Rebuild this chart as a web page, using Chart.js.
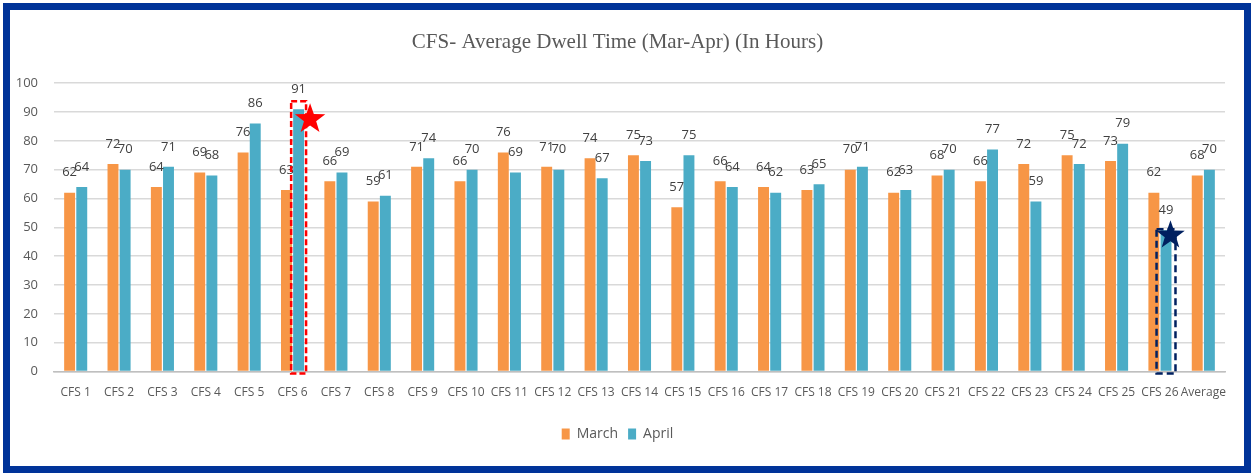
<!DOCTYPE html>
<html>
<head>
<meta charset="utf-8">
<script src="https://cdn.jsdelivr.net/npm/chart.js@4/dist/chart.umd.min.js"></script>
<style>
  body { margin: 0; background: #fff; }
  .frame {
    position: absolute; left: 3px; top: 3px;
    width: 1248px; height: 470px; box-sizing: border-box;
    border: 7px solid #003399; background: #fff;
  }
  canvas { display: block; }
</style>
</head>
<body>
<div class="frame">
  <canvas id="grafico" width="1234" height="456"></canvas>
</div>
<script>
const categorias = [
  'CFS 1', 'CFS 2', 'CFS 3', 'CFS 4', 'CFS 5', 'CFS 6', 'CFS 7', 'CFS 8', 'CFS 9',
  'CFS 10', 'CFS 11', 'CFS 12', 'CFS 13', 'CFS 14', 'CFS 15', 'CFS 16', 'CFS 17',
  'CFS 18', 'CFS 19', 'CFS 20', 'CFS 21', 'CFS 22', 'CFS 23', 'CFS 24', 'CFS 25',
  'CFS 26', 'Average'
];
const marco = [62, 72, 64, 69, 76, 63, 66, 59, 71, 66, 76, 71, 74, 75, 57, 66, 64, 63, 70, 62, 68, 66, 72, 75, 73, 62, 68];
const abril = [64, 70, 71, 68, 86, 91, 69, 61, 74, 70, 69, 70, 67, 73, 75, 64, 62, 65, 71, 63, 70, 77, 59, 72, 79, 49, 70];
const ticksY = [0, 10, 20, 30, 40, 50, 60, 70, 80, 90, 100];

// destaques: indice da categoria na serie April
const destaques = [
  { indice: 5, cor: '#FF0000', padX: 2, padTopo: 8, estrelaDx: 8, estrelaDy: 10, raio: 16, traco: [6, 3] },
  { indice: 25, cor: '#002060', padX: 4, padTopo: 1, estrelaDx: 1, estrelaDy: 5, raio: 15, traco: [7, 4] }
];

const fonte = "'Open Sans', sans-serif";

const rotulos = {
  id: 'rotulos',
  afterDatasetsDraw(chart) {
    const ctx = chart.ctx;
    ctx.save();
    ctx.font = '13px ' + fonte;
    ctx.fillStyle = '#404040';
    ctx.textAlign = 'center';
    ctx.textBaseline = 'middle';
    chart.data.datasets.forEach((ds, d) => {
      chart.getDatasetMeta(d).data.forEach((barra, i) => {
        ctx.fillText(ds.data[i], barra.x, barra.y - 20);
      });
    });
    ctx.restore();
  }
};

function estrela(ctx, cx, cy, r, cor) {
  ctx.beginPath();
  for (let k = 0; k < 10; k++) {
    const raio = k % 2 === 0 ? r : r * 0.4;
    const ang = -Math.PI / 2 + k * Math.PI / 5;
    const px = cx + raio * Math.cos(ang);
    const py = cy + raio * Math.sin(ang);
    if (k === 0) ctx.moveTo(px, py); else ctx.lineTo(px, py);
  }
  ctx.closePath();
  ctx.fillStyle = cor;
  ctx.fill();
}

const marcacoes = {
  id: 'marcacoes',
  afterDatasetsDraw(chart) {
    const ctx = chart.ctx;
    const meta = chart.getDatasetMeta(1);
    const base = chart.scales.y.getPixelForValue(0);
    ctx.save();
    destaques.forEach(h => {
      const barra = meta.data[h.indice];
      const esq = barra.x - barra.width / 2 - h.padX;
      const dir = barra.x + barra.width / 2 + h.padX;
      const topo = barra.y - h.padTopo;
      ctx.setLineDash(h.traco);
      ctx.lineWidth = 2.5;
      ctx.strokeStyle = h.cor;
      ctx.strokeRect(esq, topo, dir - esq, base + 2 - topo);
      ctx.setLineDash([]);
      estrela(ctx, barra.x + h.estrelaDx + barra.width / 2 - 2, barra.y + h.estrelaDy, h.raio, h.cor);
    });
    ctx.restore();
  }
};

new Chart(document.getElementById('grafico'), {
  type: 'bar',
  data: {
    labels: categorias,
    datasets: [
      { label: 'March', data: marco, backgroundColor: '#F79646', categoryPercentage: 0.56, barPercentage: 0.9 },
      { label: 'April', data: abril, backgroundColor: '#4BACC6', categoryPercentage: 0.56, barPercentage: 0.9 }
    ]
  },
  options: {
    responsive: false,
    animation: false,
    devicePixelRatio: 1,
    layout: { padding: { left: 0, right: 19, top: 0, bottom: 15 } },
    plugins: {
      title: {
        display: true,
        text: 'CFS- Average Dwell Time (Mar-Apr) (In Hours)',
        color: '#595959',
        font: { family: "'Liberation Serif', 'DejaVu Serif', serif", size: 21, weight: 'normal' },
        padding: { top: 20, bottom: 28 }
      },
      legend: {
        position: 'bottom',
        labels: {
          color: '#595959',
          font: { family: fonte, size: 14 },
          boxWidth: 8,
          boxHeight: 11,
          padding: 10
        }
      },
      tooltip: { enabled: false }
    },
    scales: {
      y: {
        min: 0,
        max: 100,
        afterFit(scale) { scale.width = 44; },
        afterBuildTicks(scale) { scale.ticks = ticksY.map(v => ({ value: v })); },
        ticks: { color: '#595959', font: { family: fonte, size: 13 }, padding: 16 },
        grid: { color: '#D9D9D9', drawTicks: false, lineWidth: 1.5 },
        border: { display: false }
      },
      x: {
        grid: { display: false },
        border: { color: '#BFBFBF', width: 1.5 },
        afterFit(scale) { scale.height += 11; },
        ticks: { color: '#595959', font: { family: fonte, size: 12 }, maxRotation: 0, autoSkip: false, padding: 6 }
      }
    }
  },
  plugins: [rotulos, marcacoes]
});
</script>
</body>
</html>
